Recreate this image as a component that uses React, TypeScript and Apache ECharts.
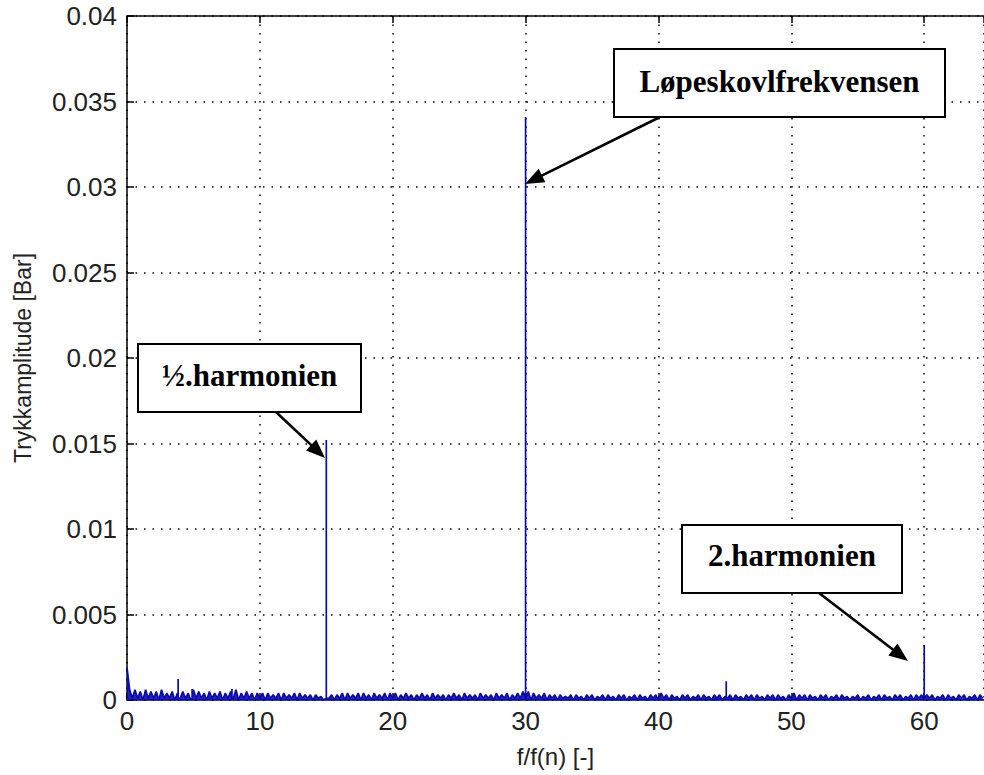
import React, { useEffect, useRef } from "react";
import * as echarts from "echarts";

// sampling step of the noise floor (f/f(n) units)
const noiseStep = 0.2;
// noise floor amplitudes in units of 1e-4 Bar, one value per step, in 10-unit segments
const noise0to10 = [
  19, 6, 1, 6, 1, 5, 0, 6, 1, 5,
  1, 5, 0, 6, 1, 4, 1, 5, 0, 4,
  1, 5, 1, 4, 0, 6, 1, 5, 1, 4,
  0, 5, 1, 4, 1, 5, 0, 4, 1, 5,
  1, 6, 0, 4, 1, 5, 1, 4, 0, 4,
];
const noise10to20 = [
  1, 4, 0, 4, 1, 3, 1, 4, 0, 4,
  1, 3, 1, 4, 0, 4, 1, 3, 1, 3,
  0, 3, 1, 2, 0, 1, 1, 3, 0, 3,
  1, 4, 0, 4, 1, 3, 1, 4, 0, 4,
  1, 3, 0, 4, 1, 3, 1, 4, 0, 4,
];
const noise20to30 = [
  1, 4, 0, 3, 1, 4, 1, 3, 0, 3,
  1, 4, 1, 3, 0, 4, 1, 3, 1, 3,
  0, 3, 1, 4, 1, 3, 0, 4, 1, 3,
  1, 3, 0, 4, 1, 3, 1, 3, 0, 4,
  1, 3, 1, 4, 0, 3, 1, 4, 1, 5,
];
const noise30to40 = [
  1, 5, 0, 4, 1, 3, 1, 4, 0, 3,
  1, 3, 0, 3, 1, 2, 1, 3, 0, 3,
  1, 2, 0, 3, 1, 3, 0, 2, 1, 3,
  0, 3, 1, 2, 0, 3, 1, 3, 0, 2,
  1, 3, 0, 3, 1, 2, 0, 3, 1, 3,
];
const noise40to50 = [
  0, 4, 1, 3, 0, 3, 1, 2, 0, 3,
  1, 3, 0, 2, 1, 3, 0, 3, 1, 2,
  0, 3, 1, 3, 0, 2, 1, 3, 0, 3,
  1, 2, 0, 3, 1, 3, 0, 3, 1, 2,
  0, 3, 1, 3, 0, 3, 1, 2, 0, 3,
];
const noise50to60 = [
  1, 4, 0, 3, 1, 3, 0, 3, 1, 2,
  0, 3, 1, 3, 0, 2, 1, 3, 0, 3,
  1, 2, 0, 2, 1, 3, 0, 2, 1, 3,
  0, 2, 1, 3, 0, 3, 1, 2, 0, 3,
  1, 3, 0, 2, 1, 3, 0, 3, 1, 3,
];
const noise60toEnd = [0, 3, 1, 3, 0, 2, 1, 3, 0, 3, 1, 2, 0, 3, 1, 3, 0, 2, 1, 3, 0, 3, 1];

// discrete spectral peaks
const peakX = [3.85, 4.9, 7.9, 15.0, 30.0, 45.1, 60.0];
const peakY = [0.00123, 0.00064, 0.00064, 0.0152, 0.0341, 0.0011, 0.0032];
const peakBase = 0.0001;

const xTicks = [0, 10, 20, 30, 40, 50, 60];
const yTicks = [0, 0.005, 0.01, 0.015, 0.02, 0.025, 0.03, 0.035, 0.04];
const xMax = 64.5;

const annotations = [
  { text: "Løpeskovlfrekvensen", box: [614, 49, 331, 68], textY: 81, from: [660, 117], to: [525, 184] },
  { text: "½.harmonien", box: [138, 344, 223, 68], textY: 375, from: [276, 412], to: [325, 458] },
  { text: "2.harmonien", box: [682, 525, 220, 68], textY: 555, from: [819, 593], to: [908, 661] },
];

function buildData(): number[][] {
  const noise = [
    ...noise0to10, ...noise10to20, ...noise20to30, ...noise30to40,
    ...noise40to50, ...noise50to60, ...noise60toEnd,
  ];
  const pts: number[][] = noise.map((v, i) => [+(i * noiseStep).toFixed(2), v * 1e-4]);
  peakX.forEach((x, i) => {
    pts.push([x, peakBase], [x, peakY[i]], [x, peakBase]);
  });
  return pts.map((p, i) => ({ p, i }))
    .sort((a, b) => a.p[0] - b.p[0] || a.i - b.i)
    .map((o) => o.p);
}

function arrowGraphics(from: number[], to: number[]) {
  const dx = to[0] - from[0];
  const dy = to[1] - from[1];
  const len = Math.hypot(dx, dy);
  const ux = dx / len, uy = dy / len;
  const headLen = 19, headHalf = 7.5;
  const bx = to[0] - ux * headLen, by = to[1] - uy * headLen;
  const px = -uy, py = ux;
  return [
    {
      type: "line",
      shape: { x1: from[0], y1: from[1], x2: bx + ux * 2, y2: by + uy * 2 },
      style: { stroke: "#000", lineWidth: 2.6 },
      z: 100,
    },
    {
      type: "polygon",
      shape: {
        points: [
          [to[0], to[1]],
          [bx + px * headHalf, by + py * headHalf],
          [bx - px * headHalf, by - py * headHalf],
        ],
      },
      style: { fill: "#000" },
      z: 100,
    },
  ];
}

export default function App() {
  const ref = useRef<HTMLDivElement>(null);
  useEffect(() => {
    if (!ref.current) return;
    const chart = echarts.init(ref.current, null, { renderer: "svg" });
    const axisFont = "'Liberation Sans', Arial, sans-serif";
    const graphics: any[] = [];
    annotations.forEach((a) => {
      graphics.push({
        type: "rect",
        shape: { x: a.box[0], y: a.box[1], width: a.box[2], height: a.box[3] },
        style: { fill: "#fff", stroke: "#000", lineWidth: 2 },
        z: 100,
      });
      graphics.push({
        type: "text",
        x: a.box[0] + a.box[2] / 2,
        y: a.textY,
        style: {
          text: a.text,
          fill: "#000",
          font: "bold 31px 'Liberation Serif', 'Times New Roman', serif",
          textAlign: "center",
          textVerticalAlign: "middle",
        },
        z: 101,
      });
      graphics.push(...arrowGraphics(a.from, a.to));
    });

    chart.setOption({
      animation: false,
      backgroundColor: "#fff",
      grid: { left: 127, top: 16, width: 858, height: 684 },
      xAxis: [
        {
          type: "value",
          min: xTicks[0],
          max: xMax,
          interval: xTicks[1] - xTicks[0],
          name: "f/f(n) [-]",
          nameLocation: "middle",
          nameGap: 44,
          nameTextStyle: { fontFamily: axisFont, fontSize: 24, color: "#222" },
          axisLine: { lineStyle: { color: "#000", width: 1.5 } },
          axisTick: { inside: true, length: 7, lineStyle: { color: "#000", width: 1.5 } },
          axisLabel: {
            showMaxLabel: false,
            margin: 8,
            fontFamily: axisFont,
            fontSize: 26,
            color: "#222",
          },
          splitLine: { show: true, lineStyle: { color: "#000", width: 1.5, type: [1.5, 7] } },
        },
        {
          type: "value",
          position: "top",
          min: xTicks[0],
          max: xMax,
          interval: xTicks[1] - xTicks[0],
          axisLine: { show: true, lineStyle: { color: "#000", width: 1.5 } },
          axisTick: { show: true, inside: true, length: 7, lineStyle: { color: "#000", width: 1.5 } },
          axisLabel: { show: false },
          splitLine: { show: false },
        },
      ],
      yAxis: {
        type: "value",
        min: yTicks[0],
        max: yTicks[yTicks.length - 1],
        interval: yTicks[1] - yTicks[0],
        name: "Trykkamplitude [Bar]",
        nameLocation: "middle",
        nameGap: 93,
        nameTextStyle: { fontFamily: axisFont, fontSize: 23, color: "#222" },
        axisLine: { show: true, lineStyle: { color: "#000", width: 1.5 } },
        axisTick: { show: true, inside: true, length: 7, lineStyle: { color: "#000", width: 1.5 } },
        axisLabel: {
          margin: 10,
          fontFamily: axisFont,
          fontSize: 26,
          color: "#222",
          formatter: (v: number) => String(+v.toFixed(4)),
        },
        splitLine: { show: true, lineStyle: { color: "#000", width: 1.5, type: [1.5, 7] } },
      },
      series: [
        {
          type: "line",
          data: buildData(),
          showSymbol: false,
          symbol: "none",
          lineStyle: { color: "#0a0ab4", width: 1.7 },
          areaStyle: { color: "#0a0ab4", opacity: 0.9 },
          clip: true,
        },
      ],
      graphic: graphics,
    });
    return () => chart.dispose();
  }, []);
  return (
    <div
      ref={ref}
      style={{ position: "absolute", left: 0, top: 0, width: 984, height: 775, background: "#fff" }}
    />
  );
}
